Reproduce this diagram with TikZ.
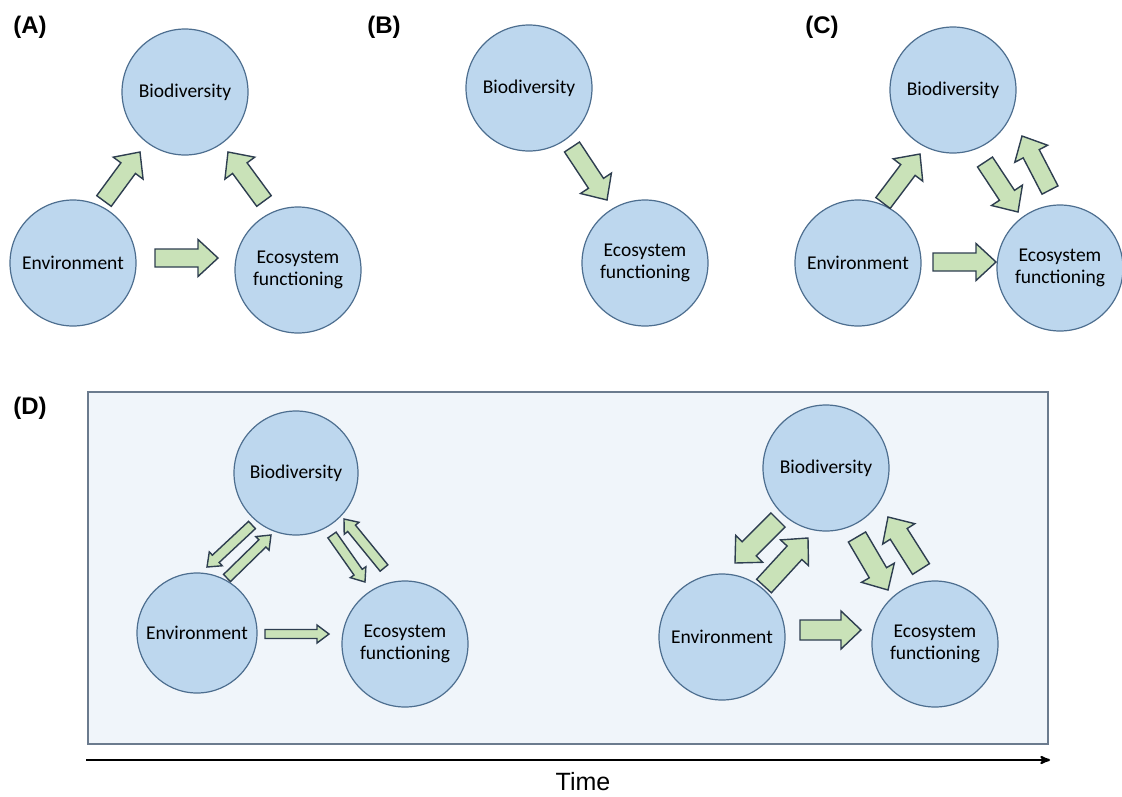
\documentclass[tikz,border=0pt]{standalone}
\usepackage{fontspec}
\setmainfont{Carlito}
\newfontfamily\panelfont{Liberation Sans}
\usetikzlibrary{arrows,calc}

\definecolor{circfill}{HTML}{BDD7EE}
\definecolor{circline}{HTML}{4D6E8F}
\definecolor{arrfill}{HTML}{C9E2B8}
\definecolor{arrline}{HTML}{2E3E50}
\definecolor{boxfill}{HTML}{F0F5FA}
\definecolor{boxline}{HTML}{6B7B8E}

\tikzset{
  factor/.style={circle,draw=circline,fill=circfill,line width=1.2pt,inner sep=0pt,
    minimum size=126pt,align=center,font=\fontsize{19.5}{22}\selectfont},
  flowarrow/.style={draw=arrline,fill=arrfill,line width=1.4pt,line join=miter},
  panel/.style={font=\panelfont\bfseries\fontsize{24}{26}\selectfont}
}

% block arrow: tail, tip, half shaft width, half head width, head length
\newcommand{\flow}[5]{%
  \coordinate (ft) at (#1); \coordinate (fp) at (#2);
  \coordinate (fh) at ($(fp)!#5!(ft)$);
  \draw[flowarrow] ($(ft)!#3!90:(fp)$) -- ($(fh)!#3!90:(fp)$) -- ($(fh)!#4!90:(fp)$)
    -- (fp) -- ($(fh)!#4!-90:(fp)$) -- ($(fh)!#3!-90:(fp)$) -- ($(ft)!#3!-90:(fp)$) -- cycle;
}

\begin{document}
\begin{tikzpicture}[x=1pt,y=-1pt,>=stealth']
  \useasboundingbox (0,0) rectangle (1122,796);

  % (A)
  \node[panel] (pa) at (30,27) {(A)};
  \node[factor] (bA) at (185,92) {Biodiversity};
  \node[factor] (eA) at (73,263) {Environment};
  \node[factor] (fA) at (298,270) {Ecosystem\\functioning};
  \flow{104,201}{140,152}{9pt}{18.5pt}{20pt}
  \flow{264,201}{228,152}{9pt}{18.5pt}{20pt}
  \flow{155,258}{218,258}{9pt}{18.5pt}{20pt}

  % (B)
  \node[panel] (pb) at (384,27) {(B)};
  \node[factor] (bB) at (529,88) {Biodiversity};
  \node[factor] (fB) at (645,263) {Ecosystem\\functioning};
  \flow{572,147}{607,200}{9pt}{18.5pt}{20pt}

  % (C)
  \node[panel] (pc) at (822,27) {(C)};
  \node[factor] (bC) at (953,90) {Biodiversity};
  \node[factor] (eC) at (858,263) {Environment};
  \node[factor] (fC) at (1060,268) {Ecosystem\\functioning};
  \flow{883,203}{920,154}{9pt}{18.5pt}{20pt}
  \flow{933,262}{996,262}{9pt}{18.5pt}{20pt}
  \flow{985,162}{1018,212}{9pt}{18.5pt}{20pt}
  \flow{1050,190}{1022,136}{9pt}{18.5pt}{20pt}

  % (D)
  \node[panel] (pd) at (30,408) {(D)};
  \draw[draw=boxline,fill=boxfill,line width=1.3pt] (88,392) rectangle (1048,744);

  \node[factor,minimum size=124pt] (bD1) at (296,473) {Biodiversity};
  \node[factor,minimum size=120pt] (eD1) at (197,633) {Environment};
  \node[factor] (fD1) at (405,644) {Ecosystem\\functioning};
  \flow{252,525}{207,567}{5pt}{9.5pt}{12pt}
  \flow{227,578}{271,535}{5pt}{9.5pt}{12pt}
  \flow{332,535}{365,582}{5pt}{9.5pt}{12pt}
  \flow{384,568}{344,519}{5pt}{9.5pt}{12pt}
  \flow{265,634}{329,634}{4.5pt}{9pt}{12pt}

  \node[factor] (bD2) at (826,468) {Biodiversity};
  \node[factor] (eD2) at (722,637) {Environment};
  \node[factor] (fD2) at (935,644) {Ecosystem\\functioning};
  \flow{778,520}{735,563}{10pt}{19pt}{20pt}
  \flow{764,586}{808,538}{10pt}{19pt}{20pt}
  \flow{857,537}{888,590}{10pt}{19pt}{20pt}
  \flow{921,569}{888,517}{10pt}{19pt}{20pt}
  \flow{800,630}{861,630}{10pt}{19pt}{20pt}

  % time axis
  \coordinate (t0) at (86,760);
  \coordinate (t1) at (1050,760);
  \draw[->,line width=2.2pt] (t0) -- (t1);
  \node[font=\panelfont\fontsize{25}{27}\selectfont] (time) at (583,782) {Time};
\end{tikzpicture}
\end{document}
